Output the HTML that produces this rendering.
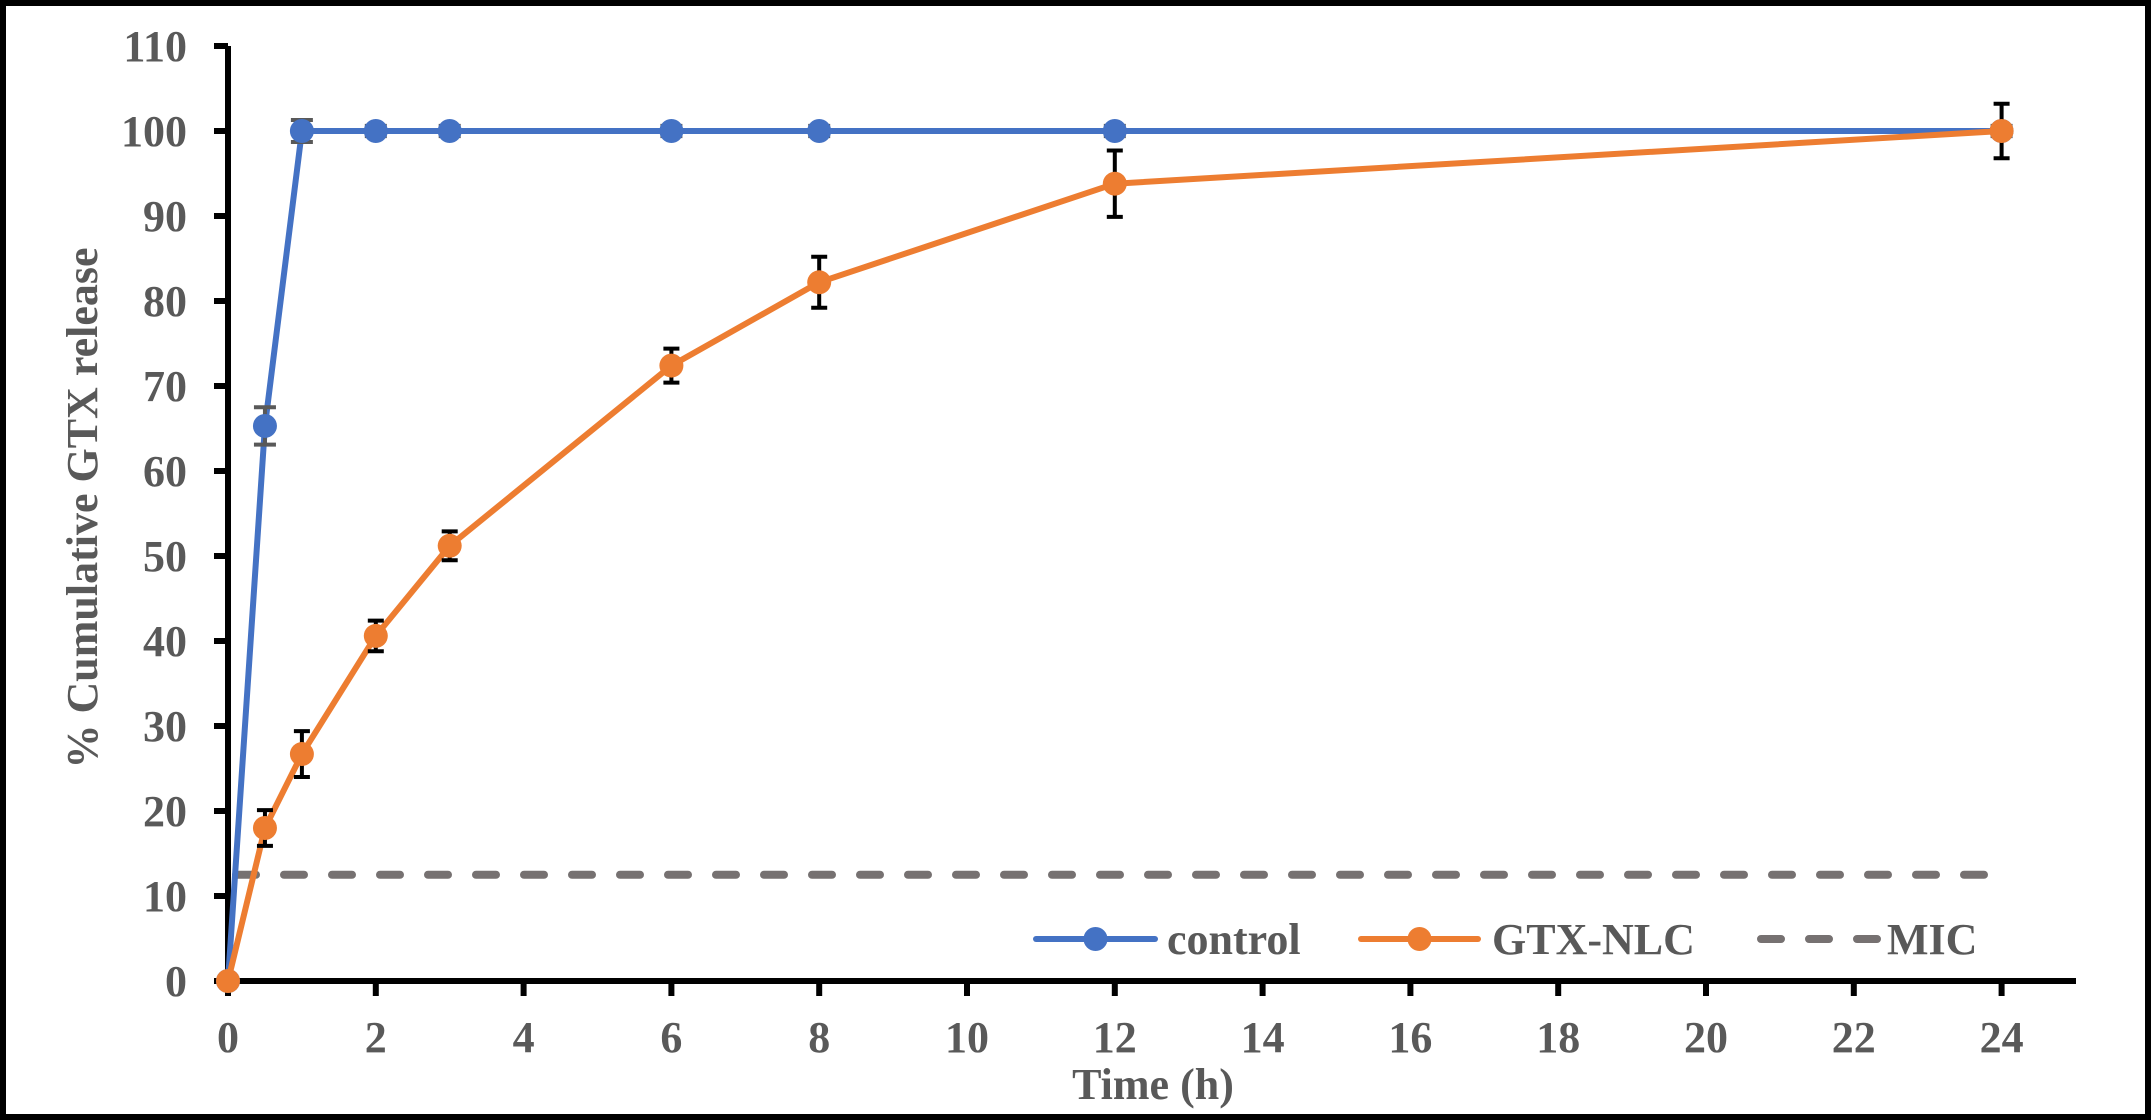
<!DOCTYPE html>
<html><head><meta charset="utf-8"><style>
html,body{margin:0;padding:0;background:#fff}
svg{display:block}
text{font-family:"Liberation Serif",serif;font-weight:bold;fill:#595959}
</style></head><body>
<svg id="chart" width="2151" height="1120" viewBox="0 0 2151 1120">
<rect x="3" y="3" width="2145" height="1114" fill="#fff" stroke="#000" stroke-width="6"/>
</svg>
<script>
const times = [0, 0.5, 1, 2, 3, 6, 8, 12, 24];
const controlVals = [0, 65.3, 100, 100, 100, 100, 100, 100, 100];
const controlErr = [0, 2.2, 1.3, 0.6, 0.6, 0.6, 0.6, 0.6, 0.6];
const nlcVals = [0, 18, 26.7, 40.6, 51.2, 72.4, 82.2, 93.8, 100];
const nlcErr = [0, 2.1, 2.7, 1.8, 1.7, 2.0, 3.0, 3.9, 3.2];
const micValue = 12.5;
const yTicks = [0,10,20,30,40,50,60,70,80,90,100,110];
const xTicks = [0,2,4,6,8,10,12,14,16,18,20,22,24];

const NS='http://www.w3.org/2000/svg';
const svg=document.getElementById('chart');
const X0=228, XS=73.9, Y0=981, YS=8.50;
const xs=v=>X0+v*XS, ys=v=>Y0-v*YS;
function mk(tag,attrs,parent){const e=document.createElementNS(NS,tag);for(const k in attrs)e.setAttribute(k,attrs[k]);(parent||svg).appendChild(e);return e;}

let mic=mk('line',{x1:xs(0)+8,x2:xs(24),y1:ys(micValue),y2:ys(micValue),stroke:'#767171','stroke-width':8,'stroke-dasharray':'20 28','stroke-linecap':'round'});



let ya=mk('line',{x1:X0,x2:X0,y1:ys(110),y2:Y0+3,stroke:'#000','stroke-width':6});


let xa=mk('line',{x1:X0-3,x2:2076,y1:Y0,y2:Y0,stroke:'#000','stroke-width':6});


yTicks.forEach(v=>{
  let t=mk('line',{x1:X0-14,x2:X0,y1:ys(v),y2:ys(v),stroke:'#000','stroke-width':6});
  
  
  let l=mk('text',{x:187,y:ys(v)+15,'font-size':44,'text-anchor':'end'});l.textContent=v;
  
  
});
xTicks.forEach(v=>{
  let t=mk('line',{x1:xs(v),x2:xs(v),y1:Y0,y2:Y0+15,stroke:'#000','stroke-width':6});
  
  
  let l=mk('text',{x:xs(v),y:1052,'font-size':44,'text-anchor':'middle'});l.textContent=v;
  
  
});
let xt=mk('text',{x:1153,y:1099,'font-size':44,'text-anchor':'middle'});xt.textContent='Time (h)';


let yt=mk('text',{x:0,y:0,'font-size':44,'text-anchor':'middle',transform:'translate(97,508) rotate(-90)'});yt.textContent='% Cumulative  GTX release';



function series(vals,errs,color,errColor,capW,name){
  const g=mk('g',{});
  
  
  const pts=times.map((t,i)=>xs(t)+','+ys(vals[i])).join(' ');
  let pl=mk('polyline',{points:pts,fill:'none',stroke:color,'stroke-width':6,'stroke-linejoin':'round'},g);
  
  
  times.forEach((t,i)=>{
    if(errs[i]>0){
      const x=xs(t),y1=ys(vals[i]+errs[i]),y2=ys(vals[i]-errs[i]);
      const e=mk('path',{d:`M${x},${y1}V${y2}M${x-capW/2},${y1}H${x+capW/2}M${x-capW/2},${y2}H${x+capW/2}`,stroke:errColor,'stroke-width':4,fill:'none'},g);
      
      
    }
  });
  times.forEach((t,i)=>{
    const c=mk('circle',{cx:xs(t),cy:ys(vals[i]),r:12,fill:color},g);
    
    
  });
}
series(controlVals,controlErr,'#4472C4','#595959',22,'control');
series(nlcVals,nlcErr,'#ED7D31','#000',16,'gtx-nlc');

const LY=939;
function legItem(x1,x2,tx,color,label,name,dashed){
  const g=mk('g',{});
  
  
  if(dashed){
    mk('line',{x1:x1+6,x2:x2,y1:LY,y2:LY,stroke:'#767171','stroke-width':8,'stroke-dasharray':'20 28','stroke-linecap':'round'},g);
  }else{
    mk('line',{x1:x1,x2:x2,y1:LY,y2:LY,stroke:color,'stroke-width':6,'stroke-linecap':'round'},g);
    mk('circle',{cx:(x1+x2)/2,cy:LY,r:12,fill:color},g);
  }
  const t=mk('text',{x:tx,y:LY+15,'font-size':44},g);t.textContent=label;
}
legItem(1036,1155,1167,'#4472C4','control','control');
legItem(1361,1478,1492,'#ED7D31','GTX-NLC','gtx-nlc');
legItem(1755,1878,1887,'#767171','MIC','mic',true);
</script>
</body></html>
